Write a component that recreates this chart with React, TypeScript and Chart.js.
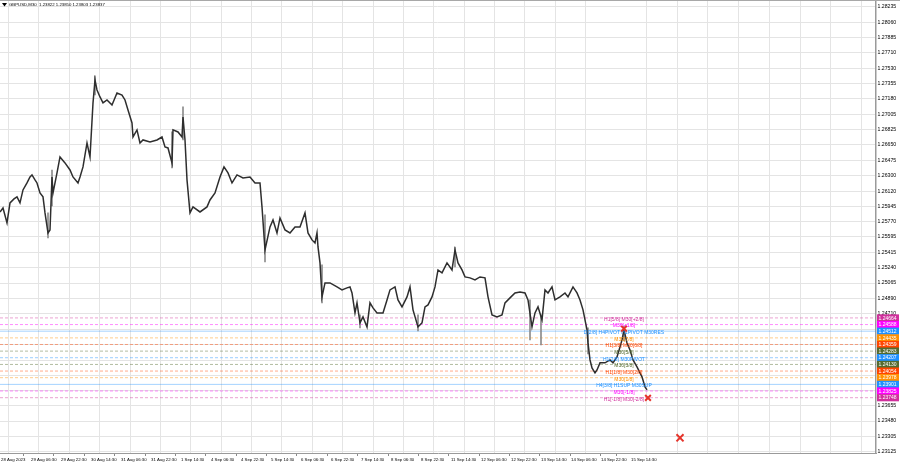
import React, { useEffect, useRef } from 'react';
import Chart from 'chart.js/auto';

const FONT = '"Liberation Sans", Arial, sans-serif';

const titleText = 'GBPUSD,M30  1.23822 1.23850 1.23803 1.23837';
const currentPrice = 1.23837;

// price axis ticks
const yTicks = [1.28235, 1.2806, 1.27885, 1.2771, 1.2753, 1.27355, 1.2718, 1.27005, 1.26825, 1.2665, 1.26475, 1.263, 1.2612, 1.25945, 1.2577, 1.25595, 1.25415, 1.2524, 1.25065, 1.2489, 1.2471, 1.24535, 1.2436, 1.2418, 1.24005, 1.2383, 1.23655, 1.2348, 1.23305, 1.23125];
const yMin = 1.23113;
const yMax = 1.28315;

// time axis (chart columns)
const timeLabels = ['28 Aug 2023', '29 Aug 06:30', '29 Aug 22:30', '30 Aug 14:30', '31 Aug 06:30', '31 Aug 22:30', '1 Sep 14:30', '4 Sep 06:30', '4 Sep 22:30', '5 Sep 14:30', '6 Sep 06:30', '6 Sep 22:30', '7 Sep 14:30', '8 Sep 06:30', '8 Sep 22:30', '11 Sep 14:30', '12 Sep 06:30', '12 Sep 22:30', '13 Sep 14:30', '14 Sep 06:30', '14 Sep 22:30', '15 Sep 14:30'];
const timeLabelSlots = [1, 31, 61, 91, 121, 151, 181, 211, 241, 271, 301, 331, 361, 391, 421, 451, 481, 511, 541, 571, 601, 631];
const xMax = 876;

// price path (column, price)
const pathSlots = [0, 3, 7, 10, 14, 17, 20, 23, 27, 30, 32, 35, 37, 40, 43, 45, 48, 50, 52, 53, 57, 60, 65, 70, 73, 78, 80, 83, 87, 90, 93, 95, 97, 100, 103, 107, 112, 117, 122, 125, 128, 132, 133, 137, 140, 143, 150, 157, 162, 165, 168, 172, 173, 178, 182, 183, 185, 187, 190, 193, 200, 207, 210, 215, 220, 224, 228, 232, 237, 243, 250, 255, 260, 262, 265, 270, 273, 277, 280, 285, 290, 295, 300, 305, 308, 312, 315, 317, 318, 320, 322, 325, 330, 337, 342, 347, 350, 352, 355, 357, 360, 363, 367, 370, 373, 377, 383, 387, 390, 395, 398, 402, 407, 410, 413, 418, 422, 425, 428, 432, 435, 438, 442, 447, 452, 455, 458, 462, 465, 470, 475, 480, 485, 488, 492, 497, 502, 505, 510, 515, 520, 525, 528, 532, 535, 538, 542, 545, 548, 552, 555, 560, 565, 568, 573, 577, 580, 583, 587, 588, 590, 592, 595, 597, 600, 605, 610, 613, 617, 620, 622, 624, 627, 630, 633, 637, 640, 642, 645, 647];
const pathPrices = [1.25881, 1.25927, 1.25755, 1.25985, 1.26031, 1.26054, 1.25985, 1.26134, 1.26214, 1.26283, 1.26306, 1.26249, 1.26214, 1.26099, 1.26054, 1.2587, 1.2564, 1.25675, 1.26283, 1.26099, 1.26329, 1.26513, 1.26444, 1.26363, 1.26283, 1.26214, 1.26283, 1.26398, 1.26673, 1.26513, 1.27133, 1.27397, 1.27282, 1.27202, 1.27133, 1.27167, 1.2711, 1.27247, 1.27224, 1.27167, 1.27052, 1.26903, 1.26742, 1.26823, 1.26673, 1.26708, 1.26685, 1.26708, 1.26742, 1.26627, 1.26616, 1.26444, 1.26823, 1.268, 1.26742, 1.26972, 1.26708, 1.26249, 1.2587, 1.25939, 1.25881, 1.25939, 1.26019, 1.26099, 1.26283, 1.26398, 1.26329, 1.26214, 1.26306, 1.26272, 1.26283, 1.26214, 1.26214, 1.25939, 1.25445, 1.25709, 1.25789, 1.2564, 1.25812, 1.25675, 1.2564, 1.25709, 1.25709, 1.2587, 1.2564, 1.2556, 1.25525, 1.2564, 1.25479, 1.25296, 1.24906, 1.25066, 1.25066, 1.2502, 1.24986, 1.25009, 1.2502, 1.24951, 1.24722, 1.24837, 1.24607, 1.24676, 1.24561, 1.24837, 1.24779, 1.24722, 1.24722, 1.24871, 1.24986, 1.2502, 1.24871, 1.24791, 1.24905, 1.2502, 1.24757, 1.24561, 1.24607, 1.24791, 1.24814, 1.24905, 1.2502, 1.25215, 1.25181, 1.25296, 1.25215, 1.25445, 1.25296, 1.25215, 1.25135, 1.25124, 1.25101, 1.25135, 1.25124, 1.24906, 1.24699, 1.24676, 1.24699, 1.24837, 1.24894, 1.24951, 1.24963, 1.24951, 1.24871, 1.24561, 1.24722, 1.24791, 1.24641, 1.24986, 1.24951, 1.2502, 1.24871, 1.24906, 1.24951, 1.24906, 1.2502, 1.24951, 1.24871, 1.24757, 1.24527, 1.24377, 1.24182, 1.2409, 1.24033, 1.24067, 1.24148, 1.24148, 1.24182, 1.24148, 1.24217, 1.24331, 1.24412, 1.24527, 1.24377, 1.24297, 1.24182, 1.24102, 1.24033, 1.23987, 1.23872, 1.23838];

// long wicks
const wickSlots = [48, 52, 95, 172, 183, 265, 322, 360, 418, 455, 530, 541, 588, 624];
const wickLows = [1.25583, 1.2595, 1.27224, 1.26386, 1.26708, 1.25307, 1.24837, 1.2455, 1.24515, 1.2525, 1.24412, 1.24354, 1.2425, 1.244];
const wickHighs = [1.2587, 1.26363, 1.27443, 1.268, 1.27087, 1.25847, 1.25273, 1.24699, 1.247, 1.25479, 1.24871, 1.24699, 1.2455, 1.2457];

// Murrey levels
const levelPrices = [1.24664, 1.24588, 1.24512, 1.24435, 1.24359, 1.24283, 1.24207, 1.2413, 1.24054, 1.23978, 1.23901, 1.23825, 1.23748];
const levelTexts = ['H1[5/8] M30[+2/8]', 'M30[+1/8]', 'D[2/8] H4PIVOT H1PIVOT M30RES', 'M30[7/8]', 'H1[3/8] M30[6/8]', 'M30[5/8]', 'H1[2/8] M30PIVOT', 'M30[3/8]', 'H1[1/8] M30[2/8]', 'M30[1/8]', 'H4[3/8] H1SUP M30SUP', 'M30[-1/8]', 'H1[-1/8] M30[-2/8]'];
const levelColors = ['#d0309c', '#ff00ff', '#1e90ff', '#ff9000', '#ff4500', '#556b2f', '#1e90ff', '#556b2f', '#ff4500', '#ff9000', '#1e90ff', '#ff00ff', '#d0309c'];
const levelSolid = [false, false, true, false, false, false, false, false, false, false, true, false, false];
const levelTextSlot = 624;

// red cross marks
const markSlots = [624, 648, 680];
const markPrices = [1.2454, 1.23746, 1.23287];
const markSizes = [4, 4, 5];

const gridSlots: number[] = [];
for (let v = 16; v < xMax; v += 30.75) gridSlots.push(Math.round(v * 10) / 10);

function hexA(hex: string, a: number) {
  const n = parseInt(hex.slice(1), 16);
  return `rgba(${(n >> 16) & 255},${(n >> 8) & 255},${n & 255},${a})`;
}

export default function App() {
  const ref = useRef<HTMLCanvasElement | null>(null);
  useEffect(() => {
    document.body.style.margin = '0';
    const canvas = ref.current!;
    const labelMap = new Map<number, string>();
    timeLabelSlots.forEach((s, i) => labelMap.set(s, timeLabels[i]));
    const xTickVals = [...new Set([...gridSlots, ...timeLabelSlots])].sort((a, b) => a - b);

    const datasets: any[] = [];
    levelPrices.forEach((p, i) => {
      datasets.push({
        type: 'line',
        label: 'lvl' + i,
        data: [{ x: 0, y: p }, { x: xMax, y: p }],
        borderColor: hexA(levelColors[i], levelSolid[i] ? 0.4 : 0.45),
        borderDash: levelSolid[i] ? [] : [3, 2],
        borderWidth: 1,
        pointRadius: 0,
        order: 6,
      });
    });
    datasets.push({
      type: 'bar',
      label: 'wicks',
      data: wickSlots.map((s, i) => ({ x: s, y: [wickLows[i], wickHighs[i]] })),
      backgroundColor: '#8c8c8c',
      barThickness: 1,
      order: 4,
    });
    datasets.push({
      type: 'line',
      label: 'price',
      data: pathSlots.map((s, i) => ({ x: s, y: pathPrices[i] })),
      borderColor: '#2e2e2e',
      borderWidth: 1.5,
      pointRadius: 0,
      tension: 0,
      order: 3,
    });
    datasets.push({
      type: 'line',
      label: 'marks',
      data: markSlots.map((s, i) => ({ x: s, y: markPrices[i] })),
      showLine: false,
      pointStyle: 'crossRot',
      pointRadius: markSizes,
      pointHoverRadius: markSizes,
      borderColor: '#e5332a',
      borderWidth: 2,
      order: 0,
    });

    const overlay = {
      id: 'overlay',
      afterDatasetDraw(chart: any, args: any) {
        if (chart.data.datasets[args.index].label !== 'price') return;
        const { ctx, scales } = chart;
        ctx.save();
        ctx.font = `5px ${FONT}`;
        ctx.textAlign = 'center';
        ctx.textBaseline = 'middle';
        levelPrices.forEach((p, i) => {
          ctx.fillStyle = levelColors[i];
          ctx.fillText(levelTexts[i], scales.x.getPixelForValue(levelTextSlot), scales.y.getPixelForValue(p) + 1.5);
        });
        ctx.restore();
      },
      afterDraw(chart: any) {
        const { ctx, scales, chartArea } = chart;
        ctx.save();
        // top border
        ctx.fillStyle = '#a8a8a8';
        ctx.fillRect(0, 0, 900, 1);
        const boxX = chartArea.right + 1;
        const drawBox = (p: number, bg: string) => {
          const yy = scales.y.getPixelForValue(p);
          ctx.fillStyle = bg;
          ctx.fillRect(boxX, yy - 3.6, 900 - boxX - 1, 7.2);
          ctx.fillStyle = '#ffffff';
          ctx.font = `5px ${FONT}`;
          ctx.textAlign = 'left';
          ctx.textBaseline = 'middle';
          ctx.fillText(p.toFixed(5), boxX + 1.5, yy + 0.3);
        };
        drawBox(currentPrice, '#000000');
        levelPrices.forEach((p, i) => drawBox(p, levelColors[i]));
        // title
        ctx.fillStyle = '#000';
        ctx.beginPath();
        ctx.moveTo(2, 3);
        ctx.lineTo(7, 3);
        ctx.lineTo(4.5, 6.5);
        ctx.closePath();
        ctx.fill();
        ctx.font = `4.3px ${FONT}`;
        ctx.textAlign = 'left';
        ctx.textBaseline = 'middle';
        ctx.fillText(titleText, 9, 5);
        ctx.restore();
      },
    };

    const chart = new Chart(canvas, {
      type: 'bar',
      data: { datasets },
      options: {
        animation: false,
        responsive: false,
        maintainAspectRatio: false,
        layout: { padding: 0, autoPadding: false },
        plugins: { legend: { display: false }, tooltip: { enabled: false }, title: { display: false } },
        scales: {
          x: {
            type: 'linear',
            min: 0,
            max: xMax,
            offset: false,
            afterBuildTicks: (s: any) => {
              s.ticks = xTickVals.map((v) => ({ value: v }));
            },
            afterFit: (s: any) => {
              s.height = 15;
              s.paddingLeft = 0;
              s.paddingRight = 0;
            },
            ticks: {
              autoSkip: false,
              maxRotation: 0,
              minRotation: 0,
              align: 'start',
              padding: 1,
              color: '#000',
              font: { size: 4.3, family: FONT },
              callback: (v: any) => labelMap.get(Number(v)) ?? '',
            },
            grid: {
              color: (c: any) => (c.tick && labelMap.has(c.tick.value) ? 'rgba(0,0,0,0)' : '#e4e4e4'),
              tickColor: (c: any) => (c.tick && labelMap.has(c.tick.value) ? '#8a8a8a' : 'rgba(0,0,0,0)'),
              tickLength: 3,
              lineWidth: 1,
            },
            border: { display: true, color: '#9a9a9a', width: 1 },
          },
          y: {
            type: 'linear',
            position: 'right',
            min: yMin,
            max: yMax,
            afterBuildTicks: (s: any) => {
              s.ticks = yTicks.map((v) => ({ value: v }));
            },
            afterFit: (s: any) => {
              s.width = 24;
              s.paddingTop = 0;
              s.paddingBottom = 0;
            },
            ticks: {
              autoSkip: false,
              padding: 1.5,
              color: '#000',
              font: { size: 5.2, family: FONT },
              callback: (v: any) => Number(v).toFixed(5),
            },
            grid: { color: '#e4e4e4', drawTicks: false, lineWidth: 1 },
            border: { display: true, color: '#9a9a9a', width: 1.5 },
          },
        },
      } as any,
      plugins: [overlay],
    });
    return () => chart.destroy();
  }, []);
  return (
    <div style={{ width: 900, height: 468, background: '#fff' }}>
      <canvas ref={ref} width={900} height={468} style={{ display: 'block' }} />
    </div>
  );
}
